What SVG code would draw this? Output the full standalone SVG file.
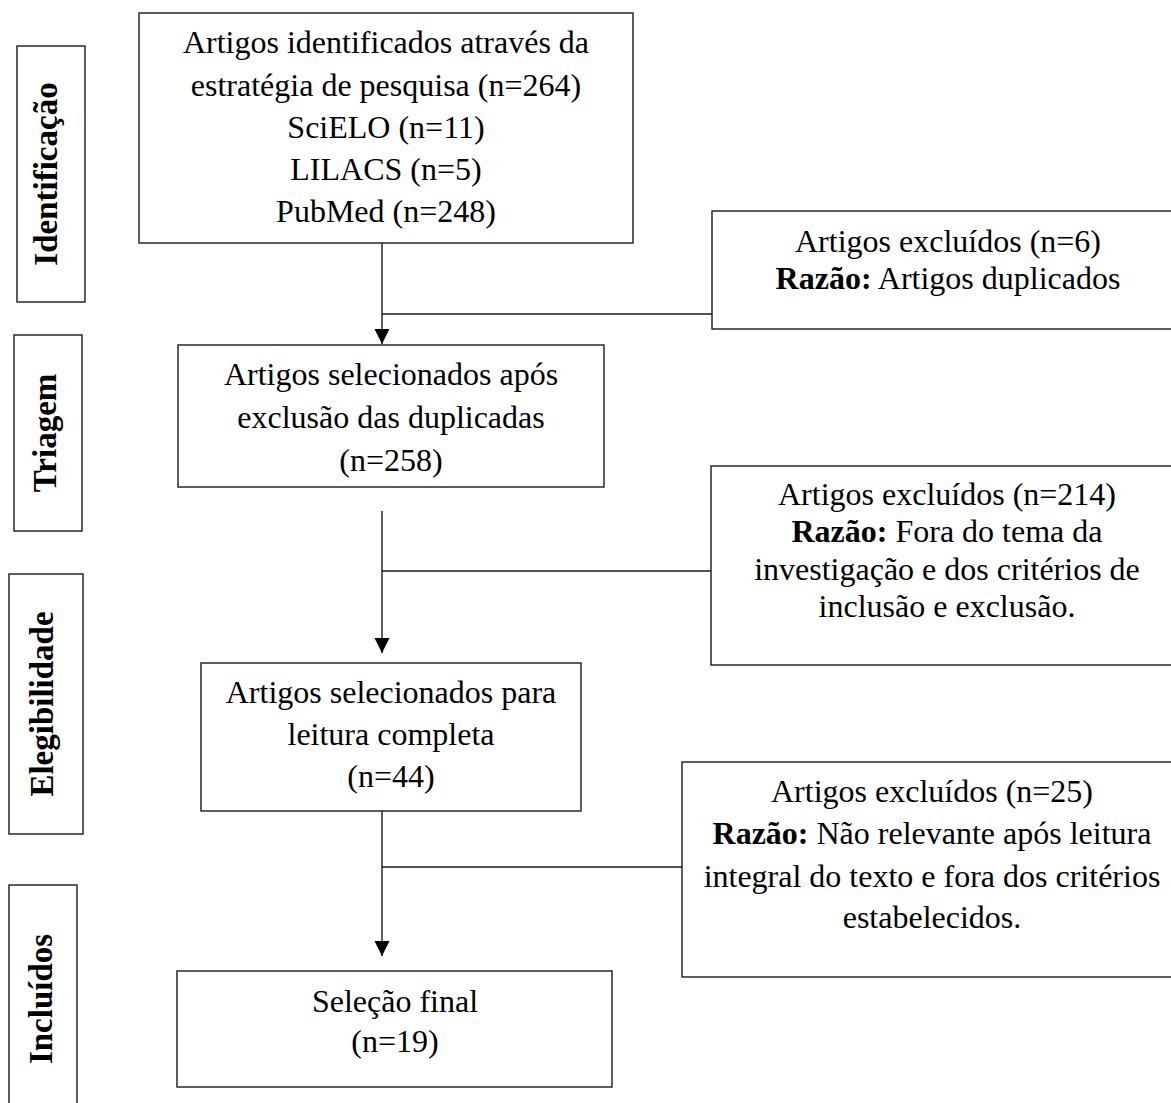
<svg xmlns="http://www.w3.org/2000/svg" width="1171" height="1103" viewBox="0 0 1171 1103">
<defs>
<style>
.box{fill:#fff;stroke:#1a1a1a;stroke-width:1.4}
.t{font-family:"Liberation Serif","Times New Roman",serif;font-size:32px;fill:#000;text-anchor:middle}
.lab{font-family:"Liberation Serif","Times New Roman",serif;font-size:33px;font-weight:bold;fill:#000;text-anchor:middle}
.b{font-weight:bold}
.ln{stroke:#1a1a1a;stroke-width:1.4;fill:none}
</style>
<marker id="ah" markerUnits="userSpaceOnUse" markerWidth="16" markerHeight="16" refX="15" refY="7.5" orient="auto">
<path d="M0,0 L15,7.5 L0,15 z" fill="#000"/>
</marker>
</defs>
<rect width="1171" height="1103" fill="#fff"/>

<g id="stage-identificacao">
<rect class="box" x="17" y="46" width="68" height="256"/>
<text class="lab" transform="translate(57,174) rotate(-90)">Identificação</text>
</g>
<g id="stage-triagem">
<rect class="box" x="14" y="335" width="68" height="196"/>
<text class="lab" transform="translate(56,433) rotate(-90)">Triagem</text>
</g>
<g id="stage-elegibilidade">
<rect class="box" x="9" y="574" width="74" height="260"/>
<text class="lab" transform="translate(53,704) rotate(-90)">Elegibilidade</text>
</g>
<g id="stage-incluidos">
<rect class="box" x="9" y="885" width="68" height="230"/>
<text class="lab" transform="translate(52,999) rotate(-90)">Incluídos</text>
</g>

<g id="connectors">
<line class="ln" x1="382" y1="243" x2="382" y2="344" marker-end="url(#ah)"/>
<line class="ln" x1="382" y1="314" x2="712" y2="314"/>
<line class="ln" x1="382" y1="511" x2="382" y2="653" marker-end="url(#ah)"/>
<line class="ln" x1="382" y1="571" x2="711" y2="571"/>
<line class="ln" x1="382" y1="811" x2="382" y2="956" marker-end="url(#ah)"/>
<line class="ln" x1="382" y1="867" x2="682" y2="867"/>
</g>

<g id="box-identificados">
<rect class="box" x="139" y="13" width="494" height="230"/>
<text class="t" x="386" y="53">Artigos identificados através da</text>
<text class="t" x="386" y="96">estratégia de pesquisa (n=264)</text>
<text class="t" x="386" y="138">SciELO (n=11)</text>
<text class="t" x="386" y="180">LILACS (n=5)</text>
<text class="t" x="386" y="222">PubMed (n=248)</text>
</g>

<g id="box-excluidos-1">
<rect class="box" x="712" y="211" width="472" height="118"/>
<text class="t" x="948" y="252">Artigos excluídos (n=6)</text>
<text class="t" x="948" y="289"><tspan class="b">Razão:</tspan> Artigos duplicados</text>
</g>

<g id="box-triagem">
<rect class="box" x="178" y="345" width="426" height="142"/>
<text class="t" x="391" y="385">Artigos selecionados após</text>
<text class="t" x="391" y="428">exclusão das duplicadas</text>
<text class="t" x="391" y="471">(n=258)</text>
</g>

<g id="box-excluidos-2">
<rect class="box" x="711" y="466" width="472" height="199"/>
<text class="t" x="947" y="505">Artigos excluídos (n=214)</text>
<text class="t" x="947" y="542"><tspan class="b">Razão:</tspan> Fora do tema da</text>
<text class="t" x="947" y="580">investigação e dos critérios de</text>
<text class="t" x="947" y="617">inclusão e exclusão.</text>
</g>

<g id="box-elegibilidade">
<rect class="box" x="201" y="663" width="380" height="148"/>
<text class="t" x="391" y="703">Artigos selecionados para</text>
<text class="t" x="391" y="745">leitura completa</text>
<text class="t" x="391" y="787">(n=44)</text>
</g>

<g id="box-excluidos-3">
<rect class="box" x="682" y="762" width="500" height="215"/>
<text class="t" x="932" y="802">Artigos excluídos (n=25)</text>
<text class="t" x="932" y="844"><tspan class="b">Razão:</tspan> Não relevante após leitura</text>
<text class="t" x="932" y="887">integral do texto e fora dos critérios</text>
<text class="t" x="932" y="928">estabelecidos.</text>
</g>

<g id="box-final">
<rect class="box" x="177" y="971" width="435" height="116"/>
<text class="t" x="395" y="1012">Seleção final</text>
<text class="t" x="395" y="1052">(n=19)</text>
</g>
</svg>
